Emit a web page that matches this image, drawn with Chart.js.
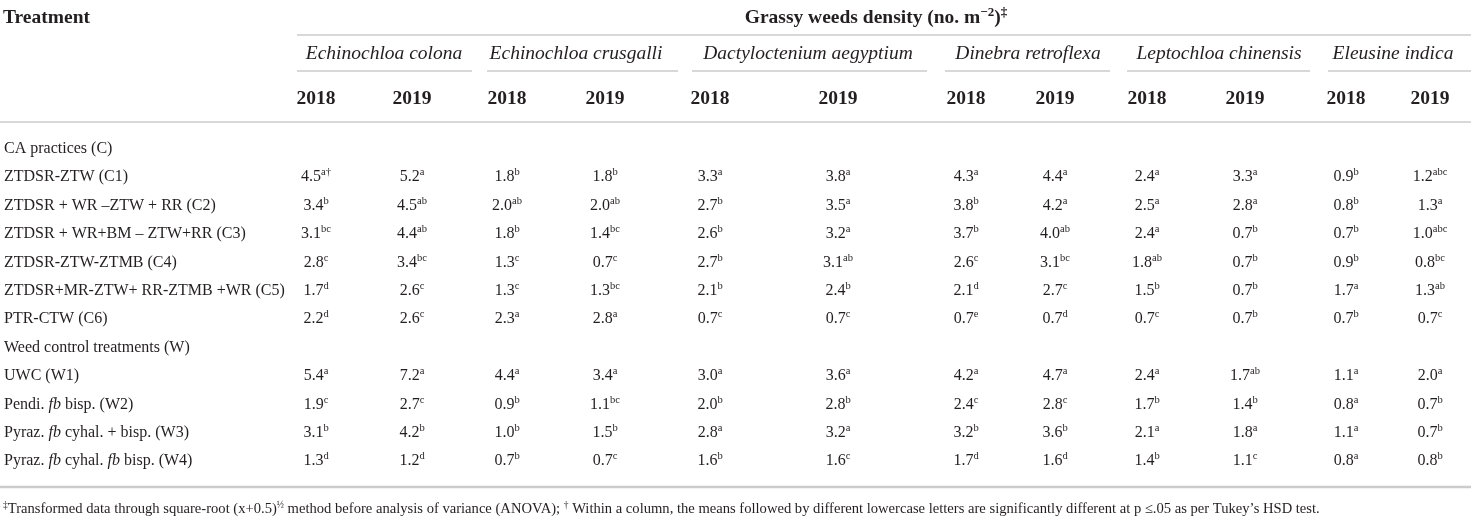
<!DOCTYPE html>
<html>
<head>
<meta charset="utf-8">
<script src="https://cdn.jsdelivr.net/npm/chart.js@4"></script>
<style>
  html, body { margin: 0; padding: 0; background: #fff; }
  #wrap { width: 1471px; height: 520px; position: relative; }
</style>
</head>
<body>
<div id="wrap"><canvas id="weeds-table"></canvas></div>
<script>
// table content
const species = ['Echinochloa colona', 'Echinochloa crusgalli', 'Dactyloctenium aegyptium', 'Dinebra retroflexa', 'Leptochloa chinensis', 'Eleusine indica'];
const years = ['2018', '2019'];
const treatments = [
    'CA practices (C)',
    'ZTDSR-ZTW (C1)',
    'ZTDSR + WR –ZTW + RR (C2)',
    'ZTDSR + WR+BM – ZTW+RR (C3)',
    'ZTDSR-ZTW-ZTMB (C4)',
    'ZTDSR+MR-ZTW+ RR-ZTMB +WR (C5)',
    'PTR-CTW (C6)',
    'Weed control treatments (W)',
    'UWC (W1)',
    'Pendi. *fb* bisp. (W2)',
    'Pyraz. *fb* cyhal. + bisp. (W3)',
    'Pyraz. *fb* cyhal. *fb* bisp. (W4)'
];

// density values, one entry per species/year column
const c1 = [4.5, 5.2, 1.8, 1.8, 3.3, 3.8, 4.3, 4.4, 2.4, 3.3, 0.9, 1.2];
const c2 = [3.4, 4.5, 2.0, 2.0, 2.7, 3.5, 3.8, 4.2, 2.5, 2.8, 0.8, 1.3];
const c3 = [3.1, 4.4, 1.8, 1.4, 2.6, 3.2, 3.7, 4.0, 2.4, 0.7, 0.7, 1.0];
const c4 = [2.8, 3.4, 1.3, 0.7, 2.7, 3.1, 2.6, 3.1, 1.8, 0.7, 0.9, 0.8];
const c5 = [1.7, 2.6, 1.3, 1.3, 2.1, 2.4, 2.1, 2.7, 1.5, 0.7, 1.7, 1.3];
const c6 = [2.2, 2.6, 2.3, 2.8, 0.7, 0.7, 0.7, 0.7, 0.7, 0.7, 0.7, 0.7];
const w1 = [5.4, 7.2, 4.4, 3.4, 3.0, 3.6, 4.2, 4.7, 2.4, 1.7, 1.1, 2.0];
const w2 = [1.9, 2.7, 0.9, 1.1, 2.0, 2.8, 2.4, 2.8, 1.7, 1.4, 0.8, 0.7];
const w3 = [3.1, 4.2, 1.0, 1.5, 2.8, 3.2, 3.2, 3.6, 2.1, 1.8, 1.1, 0.7];
const w4 = [1.3, 1.2, 0.7, 0.7, 1.6, 1.6, 1.7, 1.6, 1.4, 1.1, 0.8, 0.8];

// Tukey letters
const c1Sig = ['a†', 'a', 'b', 'b', 'a', 'a', 'a', 'a', 'a', 'a', 'b', 'abc'];
const c2Sig = ['b', 'ab', 'ab', 'ab', 'b', 'a', 'b', 'a', 'a', 'a', 'b', 'a'];
const c3Sig = ['bc', 'ab', 'b', 'bc', 'b', 'a', 'b', 'ab', 'a', 'b', 'b', 'abc'];
const c4Sig = ['c', 'bc', 'c', 'c', 'b', 'ab', 'c', 'bc', 'ab', 'b', 'b', 'bc'];
const c5Sig = ['d', 'c', 'c', 'bc', 'b', 'b', 'd', 'c', 'b', 'b', 'a', 'ab'];
const c6Sig = ['d', 'c', 'a', 'a', 'c', 'c', 'e', 'd', 'c', 'b', 'b', 'c'];
const w1Sig = ['a', 'a', 'a', 'a', 'a', 'a', 'a', 'a', 'a', 'ab', 'a', 'a'];
const w2Sig = ['c', 'c', 'b', 'bc', 'b', 'b', 'c', 'c', 'b', 'b', 'a', 'b'];
const w3Sig = ['b', 'b', 'b', 'b', 'a', 'a', 'b', 'b', 'a', 'a', 'a', 'b'];
const w4Sig = ['d', 'd', 'b', 'c', 'b', 'c', 'd', 'd', 'b', 'c', 'a', 'b'];

// row index -> [values, letters]; section headings have none
const rowData = [null, [c1, c1Sig], [c2, c2Sig], [c3, c3Sig], [c4, c4Sig], [c5, c5Sig], [c6, c6Sig],
                 null, [w1, w1Sig], [w2, w2Sig], [w3, w3Sig], [w4, w4Sig]];

// layout
const W = 1471, H = 520;
const ROW_TOP = 147.5, ROW_PITCH = 28.4;
const colX = [316, 412, 507, 605, 710, 838, 966, 1055, 1147, 1245, 1346, 1430];
const speciesX = [384, 576, 808, 1028, 1219, 1393];
const speciesRule = [[297, 472], [487, 678], [692, 927], [945, 1110], [1127, 1310], [1328, 1471]];

const SERIF = '"Liberation Serif", "Times New Roman", serif';
const INK = '#231f20';
const RULE = '#cbcbcb';
const BODY = '16px ' + SERIF;
const BODY_IT = 'italic 16px ' + SERIF;
const SUP = '10.5px ' + SERIF;
const HEAD = 'bold 19.5px ' + SERIF;
const HEAD_IT = 'italic 19.5px ' + SERIF;
const HEAD_SUP = 'bold 13px ' + SERIF;
const NOTE = '14.6px ' + SERIF;
const NOTE_SUP = '9.5px ' + SERIF;

// "*x*" marks italic runs
function parseItalic(text, font, italicFont) {
    return text.split('*').map((t, i) => ({ t: t, f: i % 2 ? italicFont : font }));
}

function drawRich(ctx, parts, x, y, align, lift) {
    let total = 0;
    parts.forEach(p => { ctx.font = p.f; p.w = ctx.measureText(p.t).width; total += p.w; });
    let cx = align === 'center' ? x - total / 2 : x;
    const base = y + lift;
    parts.forEach(p => {
        ctx.font = p.f;
        ctx.fillText(p.t, cx, base + (p.dy || 0));
        cx += p.w;
    });
}

function hRule(ctx, x0, x1, y, lw) {
    ctx.beginPath();
    ctx.lineWidth = lw;
    ctx.strokeStyle = RULE;
    ctx.moveTo(x0, y);
    ctx.lineTo(x1, y);
    ctx.stroke();
}

const tablePlugin = {
    id: 'tableText',
    afterDatasetsDraw(chart) {
        const ctx = chart.ctx;
        const xs = chart.scales.x, ys = chart.scales.y;
        ctx.save();
        ctx.textBaseline = 'alphabetic';
        ctx.textAlign = 'left';
        ctx.fillStyle = INK;

        // rules
        hRule(ctx, 297, W, 35, 1.5);
        speciesRule.forEach(s => hRule(ctx, s[0], s[1], 71, 1.5));
        hRule(ctx, 0, W, 122, 1.5);
        hRule(ctx, 0, W, 487, 2.5);

        // header
        drawRich(ctx, [{ t: 'Treatment', f: HEAD }], 3, 16, 'left', 6.5);
        drawRich(ctx, [
            { t: 'Grassy weeds density (no. m', f: HEAD },
            { t: '−2', f: HEAD_SUP, dy: -7 },
            { t: ')', f: HEAD },
            { t: '‡', f: HEAD_SUP, dy: -7 }
        ], 876, 16, 'center', 6.5);
        species.forEach((s, i) => drawRich(ctx, [{ t: s, f: HEAD_IT }], speciesX[i], 52, 'center', 6.5));
        colX.forEach((x, j) => drawRich(ctx, [{ t: years[j % 2], f: HEAD }], x, 97, 'center', 6.5));

        // row labels
        treatments.forEach((t, i) => {
            drawRich(ctx, parseItalic(t, BODY, BODY_IT), xs.getPixelForValue(4), ys.getPixelForValue(i), 'left', 5.5);
        });

        // cells, placed on the points of each row dataset
        chart.data.datasets.forEach((ds, di) => {
            chart.getDatasetMeta(di).data.forEach((pt, j) => {
                const cell = ds.data[j];
                drawRich(ctx, [
                    { t: cell.v.toFixed(1), f: BODY },
                    { t: cell.sig, f: SUP, dy: -6 }
                ], pt.x, pt.y, 'center', 5.5);
            });
        });

        // footnote
        drawRich(ctx, [
            { t: '‡', f: NOTE_SUP, dy: -5 },
            { t: 'Transformed data through square-root (x+0.5)', f: NOTE },
            { t: '½', f: NOTE_SUP, dy: -5 },
            { t: ' method before analysis of variance (ANOVA); ', f: NOTE },
            { t: '†', f: NOTE_SUP, dy: -5 },
            { t: ' Within a column, the means followed by different lowercase letters are significantly different at p ≤.05 as per Tukey’s HSD test.', f: NOTE }
        ], 3, 508, 'left', 4.5);

        ctx.restore();
    }
};

const datasets = [];
rowData.forEach((r, i) => {
    if (!r) return;
    datasets.push({
        label: treatments[i],
        data: r[0].map((v, j) => ({ x: colX[j], y: i, v: v, sig: r[1][j] })),
        pointRadius: 0,
        showLine: false
    });
});

new Chart(document.getElementById('weeds-table'), {
    type: 'scatter',
    data: { datasets: datasets },
    options: {
        responsive: true,
        maintainAspectRatio: false,
        animation: false,
        events: [],
        layout: { padding: 0 },
        plugins: { legend: { display: false }, tooltip: { enabled: false } },
        scales: {
            x: { type: 'linear', min: 0, max: W, display: false },
            y: { type: 'linear', reverse: true, display: false,
                 min: -ROW_TOP / ROW_PITCH, max: (H - ROW_TOP) / ROW_PITCH }
        }
    },
    plugins: [tablePlugin]
});
</script>
</body>
</html>
